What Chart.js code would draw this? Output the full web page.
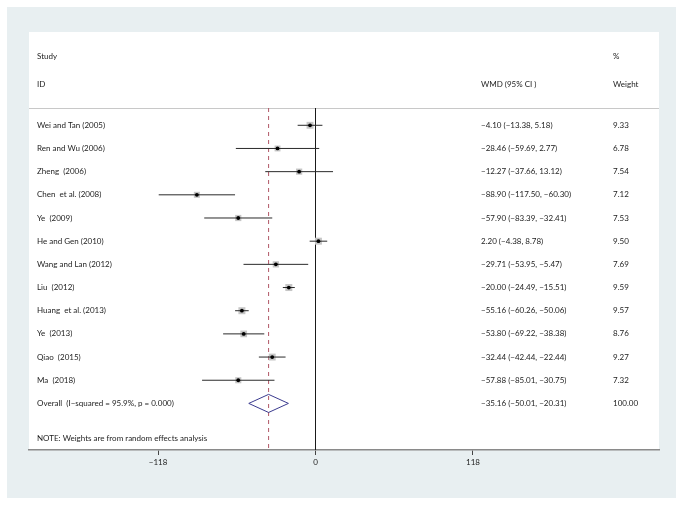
<!DOCTYPE html>
<html>
<head>
<meta charset="utf-8">
<script src="https://cdn.jsdelivr.net/npm/chart.js@4"></script>
<style>
  body { margin: 0; background: #fff; }
  canvas { display: block; }
</style>
</head>
<body>
<canvas id="forest" width="683" height="506"></canvas>
<script>
const studies = [
  "Wei and Tan (2005)", "Ren and Wu (2006)", "Zheng  (2006)", "Chen  et al. (2008)",
  "Ye  (2009)", "He and Gen (2010)", "Wang and Lan (2012)", "Liu  (2012)",
  "Huang  et al. (2013)", "Ye  (2013)", "Qiao  (2015)", "Ma  (2018)"
];
const wmd = [-4.10, -28.46, -12.27, -88.90, -57.90, 2.20, -29.71, -20.00, -55.16, -53.80, -32.44, -57.88];
const lower = [-13.38, -59.69, -37.66, -117.50, -83.39, -4.38, -53.95, -24.49, -60.26, -69.22, -42.44, -85.01];
const upper = [5.18, 2.77, 13.12, -60.30, -32.41, 8.78, -5.47, -15.51, -50.06, -38.38, -22.44, -30.75];
const weights = [9.33, 6.78, 7.54, 7.12, 7.53, 9.50, 7.69, 9.59, 9.57, 8.76, 9.27, 7.32];
const overall = [-35.16, -50.01, -20.31];   // estimate, lower, upper
const overallLabel = "Overall  (I\u2212squared = 95.9%, p = 0.000)";
const overallWeight = "100.00";
const note = "NOTE: Weights are from random effects analysis";
const xTicks = [-118, 0, 118];

const Y_MIN = -0.746, Y_MAX = 14.01;
const overallRow = studies.length;
const noteRow = overallRow + 1.51;

function fmt(v) {
  return (v < 0 ? "\u2212" : "") + Math.abs(v).toFixed(2);
}
function ciText(e, lo, hi) {
  return fmt(e) + " (" + fmt(lo) + ", " + fmt(hi) + ")";
}

const datasets = [];

// CI lines
studies.forEach((s, i) => {
  datasets.push({
    data: [{ x: lower[i], y: i }, { x: upper[i], y: i }],
    showLine: true, borderColor: "#2a2a2a", borderWidth: 1,
    pointRadius: 0, order: 1
  });
});

// weight boxes
datasets.push({
  data: wmd.map((v, i) => ({ x: v, y: i })),
  pointStyle: "rect",
  pointRadius: weights.map(w => 1.6 * Math.sqrt(w)),
  backgroundColor: "#c6c6c6", borderWidth: 0, order: 2
});

// centre dots
datasets.push({
  data: wmd.map((v, i) => ({ x: v, y: i })),
  pointRadius: 1.9, backgroundColor: "#000", borderWidth: 0, order: 0
});

// overall diamond
datasets.push({
  data: [
    { x: overall[1], y: overallRow },
    { x: overall[0], y: overallRow - 0.39 },
    { x: overall[2], y: overallRow },
    { x: overall[0], y: overallRow + 0.39 },
    { x: overall[1], y: overallRow }
  ],
  showLine: true, borderColor: "#3b3b8f", borderWidth: 1,
  pointRadius: 0, order: 1
});

// no-effect line
datasets.push({
  data: [{ x: 0, y: Y_MIN }, { x: 0, y: Y_MAX }],
  showLine: true, borderColor: "#1a1a1a", borderWidth: 1,
  pointRadius: 0, order: 3
});

// overall estimate line
datasets.push({
  data: [{ x: overall[0], y: Y_MIN }, { x: overall[0], y: Y_MAX }],
  showLine: true, borderColor: "#b25867", borderWidth: 1, borderDash: [4, 4],
  pointRadius: 0, order: 3
});

const FONT = "8px Lato";
const TEXT = "#1c1c1c";

const panelPlugin = {
  id: "panel",
  beforeDraw(chart) {
    const ctx = chart.ctx;
    ctx.save();
    ctx.fillStyle = "#fff";
    ctx.fillRect(0, 0, chart.width, chart.height);
    ctx.fillStyle = "#e8eff1";
    ctx.fillRect(7, 7, 669, 491);
    ctx.fillStyle = "#fff";
    ctx.fillRect(29, 32, 630, 418);
    ctx.strokeStyle = "#c8c8c8";
    ctx.lineWidth = 1;
    ctx.beginPath();
    ctx.moveTo(29, 108.5);
    ctx.lineTo(659, 108.5);
    ctx.stroke();
    ctx.restore();
  },
  afterDraw(chart) {
    const ctx = chart.ctx;
    const y = chart.scales.y;
    ctx.save();
    ctx.font = FONT;
    ctx.fillStyle = TEXT;
    ctx.textBaseline = "middle";
    ctx.textAlign = "left";
    ctx.fillText("Study", 37, 56);
    ctx.fillText("ID", 37, 84);
    ctx.fillText("WMD (95% CI )", 481, 84);
    ctx.fillText("%", 613, 56);
    ctx.fillText("Weight", 613, 84);
    studies.forEach((s, i) => {
      const py = y.getPixelForValue(i);
      ctx.fillText(s, 37, py);
      ctx.fillText(ciText(wmd[i], lower[i], upper[i]), 481, py);
      ctx.fillText(weights[i].toFixed(2), 613, py);
    });
    const oy = y.getPixelForValue(overallRow);
    ctx.fillText(overallLabel, 37, oy);
    ctx.fillText(ciText(overall[0], overall[1], overall[2]), 481, oy);
    ctx.fillText(overallWeight, 613, oy);
    ctx.fillText(note, 37, y.getPixelForValue(noteRow));
    ctx.restore();
  }
};

new Chart(document.getElementById("forest"), {
  type: "scatter",
  data: { datasets },
  plugins: [panelPlugin],
  options: {
    responsive: false,
    animation: false,
    events: [],
    layout: { padding: { left: 29, right: 24, top: 108, bottom: 0 } },
    plugins: { legend: { display: false }, tooltip: { enabled: false } },
    scales: {
      x: {
        type: "linear",
        min: -214.7,
        max: 257.4,
        afterBuildTicks: (scale) => { scale.ticks = xTicks.map(v => ({ value: v })); },
        afterFit: (scale) => { scale.height = 56; },
        grid: { display: true, drawOnChartArea: false, drawTicks: true, tickLength: 5, color: "#444" },
        border: { display: true, color: "#8a8a8a", width: 1.5 },
        ticks: {
          font: { family: "Lato", size: 8 },
          color: TEXT,
          padding: 3,
          maxRotation: 0,
          callback: (v) => (v < 0 ? "\u2212" : "") + Math.abs(v)
        }
      },
      y: {
        type: "linear",
        display: false,
        reverse: true,
        min: Y_MIN,
        max: Y_MAX
      }
    }
  }
});
</script>
</body>
</html>
